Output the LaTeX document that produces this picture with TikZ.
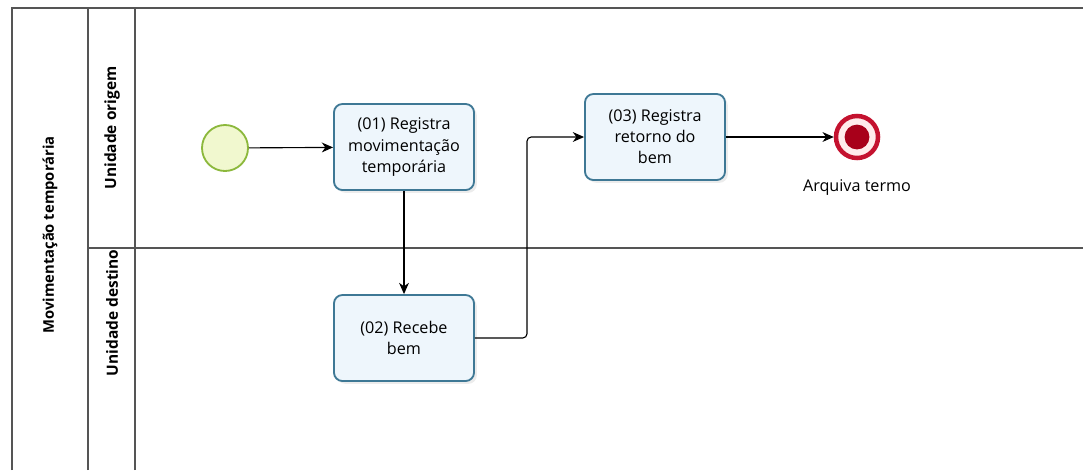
\documentclass[tikz,border=0pt]{standalone}
\usepackage{fontspec}
\setmainfont{Open Sans}
\usetikzlibrary{shapes,arrows.meta,shadows}
\definecolor{taskline}{HTML}{3E7895}
\definecolor{taskfill}{HTML}{EEF6FC}
\definecolor{startline}{HTML}{8CB83C}
\definecolor{startfill}{HTML}{F1F8CF}
\definecolor{endline}{HTML}{C4122F}
\definecolor{endfill}{HTML}{A8001A}
\definecolor{poolline}{HTML}{555555}
\tikzstyle{t} = [rectangle, rounded corners=6pt, minimum width=3.5cm, minimum height=2.15cm, text centered, align=center, draw=taskline, line width=1.3pt, fill=taskfill, font=\fontsize{11.5}{15}\selectfont, drop shadow={opacity=0.15, shadow xshift=2pt, shadow yshift=-2pt}]
\tikzstyle{lane} = [rotate=90, font=\bfseries\fontsize{11}{13}\selectfont]
\tikzstyle{f} = [-{Stealth[length=8pt,width=7pt,inset=2.5pt]}, line width=0.8pt]

\begin{document}
\begin{tikzpicture}[x=0.025cm,y=-0.025cm]
		\useasboundingbox (0,0) rectangle (1083,470);
		\draw[poolline, line width=0.8pt] (12,470)--(12,8)--(1083,8);
		\draw[poolline, line width=0.8pt] (88,470)--(88,8);
		\draw[poolline, line width=0.8pt] (135,470)--(135,8);
		\draw[poolline, line width=0.8pt] (88,248)--(1083,248);
		\node[lane, font=\bfseries\fontsize{10.5}{13}\selectfont](m) at (50,235){Movimentação temporária};
		\node[lane](o) at (112,128){Unidade origem};
		\node[lane](d) at (112,313){Unidade destino};
		\node[circle, minimum size=1.15cm, draw=startline, line width=1.3pt, fill=startfill](s) at (225,148){};
		\node[t](1) at (404,147){(01) Registra\\movimentação\\temporária};
		\node[t](2) at (404,338){(02) Recebe\\bem};
		\node[t](3) at (655,137){(03) Registra\\retorno do\\bem};
		\node[circle, minimum size=1.05cm, draw=endline, line width=3.2pt, fill=red!8](e) at (857,137){};
		\node[circle, minimum size=0.62cm, fill=endfill] at (e){};
		\node[below of=e, node distance=1.25cm, font=\fontsize{11.5}{13}\selectfont](a){Arquiva termo};
		\coordinate (k) at (527,338);
		\draw[f] (s)--(1);
		\draw[f] (1)--(2);
		\draw[f, rounded corners=3pt] (2.east)--(k)|-(3.west);
		\draw[f] (3)--(e);
		\end{tikzpicture}
\end{document}
